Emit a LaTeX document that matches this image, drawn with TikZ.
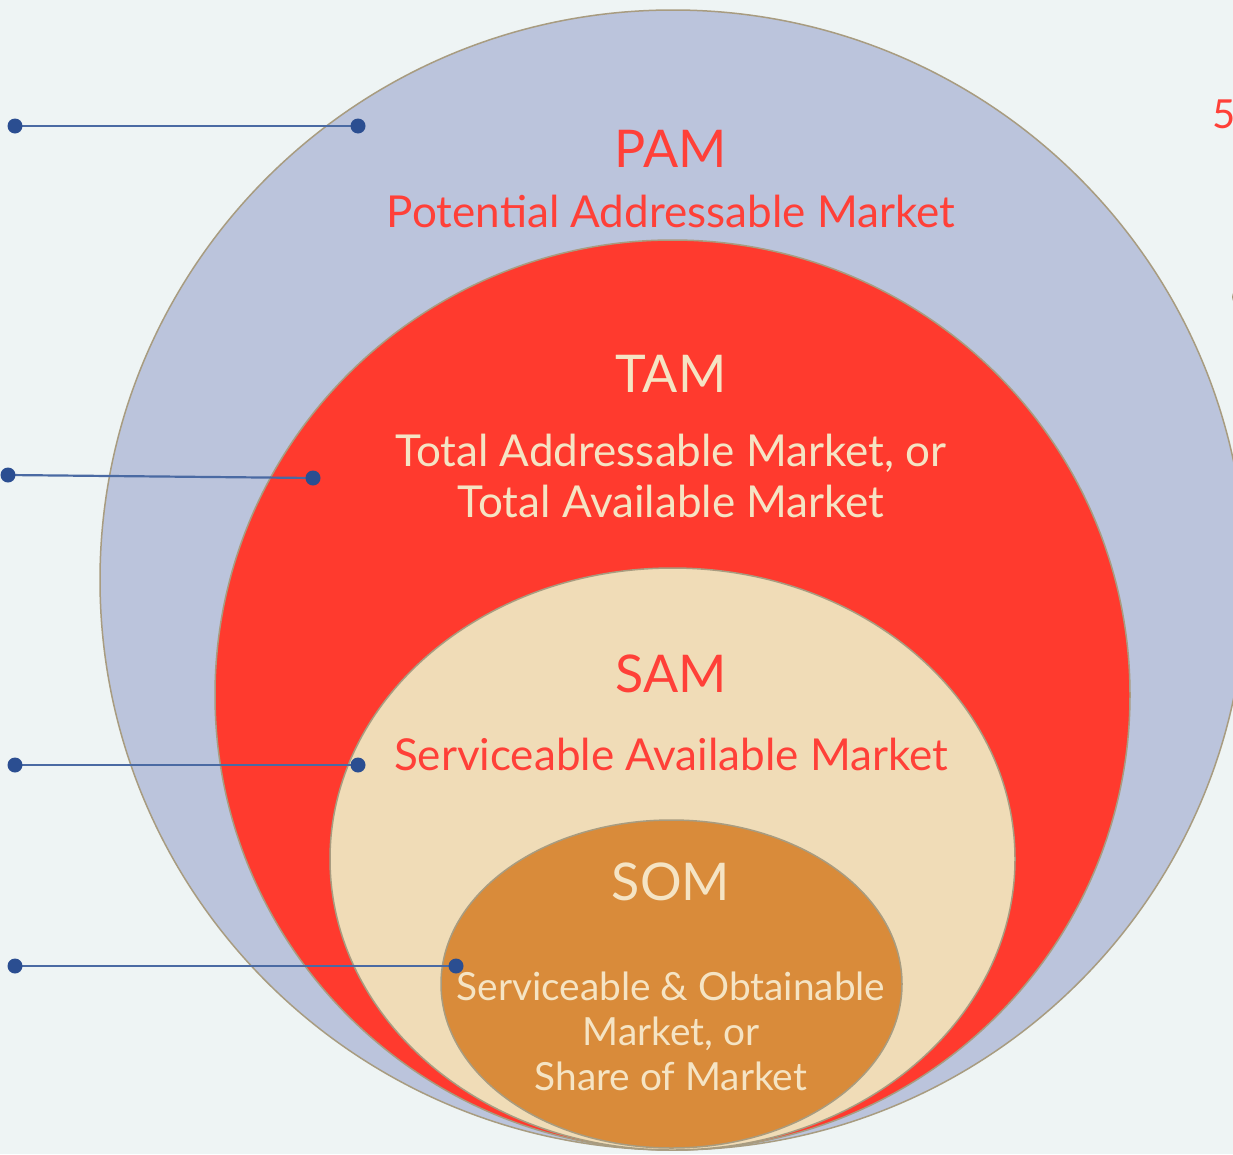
\documentclass[tikz,border=0pt]{standalone}
\usepackage{fontspec}
\setmainfont{Lato}
\usetikzlibrary{shapes.geometric}
\definecolor{bgc}{HTML}{EEF4F4}
\definecolor{pamfill}{HTML}{BBC4DC}
\definecolor{rim}{HTML}{A89C80}
\definecolor{tamfill}{HTML}{FF3A2E}
\definecolor{samfill}{HTML}{F0DCB7}
\definecolor{somfill}{HTML}{D98B3A}
\definecolor{cream}{HTML}{F5E4C4}
\definecolor{redtext}{HTML}{FF4038}
\definecolor{pin}{HTML}{2B4E91}
\definecolor{pinline}{HTML}{4A6AA3}
\begin{document}
\begin{tikzpicture}[x=1pt,y=-1pt,
  zone/.style={ellipse, draw=rim, line width=1.5pt, inner sep=0pt, outer sep=0pt},
  head/.style={font=\fontsize{52}{52}\selectfont, anchor=base, inner sep=0pt},
  sub/.style={font=\fontsize{44}{50}\selectfont, anchor=base, inner sep=0pt},
  small/.style={font=\fontsize{38.8}{44}\selectfont, anchor=base, inner sep=0pt},
  leader/.style={draw=pinline, line width=2.2pt},
  pindot/.style={circle, fill=pin, inner sep=0pt, minimum size=15pt},
  ]
\fill[bgc] (0,0) rectangle (1233,1154);
\useasboundingbox (0,0) rectangle (1233,1154);
\clip (0,0) rectangle (1233,1154);

% nested market zones
\node[zone, fill=pamfill, minimum width=1146, minimum height=1140] (pam) at (673,580) {};
\node[zone, fill=tamfill, minimum width=915, minimum height=910] (tam) at (672.5,695) {};
\node[zone, fill=samfill, minimum width=685, minimum height=582] (sam) at (672.5,859) {};
\node[zone, fill=somfill, minimum width=461, minimum height=328] (som) at (671.5,984) {};

% partial marks at the right edge
\node[anchor=base west, text=redtext, font=\fontsize{40}{40}\selectfont, inner sep=0pt] (five) at (1212,128) {5};
\node[circle, fill=rim, inner sep=0pt, minimum size=16pt] (edgedot) at (1240,297) {};

% labels
\node[head, text=redtext] (pamt) at (671,167) {PAM};
\node[sub, text=redtext] (pams) at (671,227) {Potential Addressable Market};
\node[head, text=cream] (tamt) at (671,392) {TAM};
\node[sub, text=cream] (tams1) at (671,466) {Total Addressable Market, or};
\node[sub, text=cream] (tams2) at (671,517) {Total Available Market};
\node[head, text=redtext] (samt) at (671,692) {SAM};
\node[sub, text=redtext] (sams) at (671,770) {Serviceable Available Market};
\node[head, text=cream] (somt) at (671,900) {SOM};
\node[small, text=cream] (soms1) at (671,1000) {Serviceable \& Obtainable};
\node[small, text=cream] (soms2) at (671,1045) {Market, or};
\node[small, text=cream] (soms3) at (671,1090) {Share of Market};

% leader lines
\coordinate (a1) at (15,126);  \coordinate (b1) at (358,126);
\coordinate (a2) at (8,475);   \coordinate (b2) at (313,478);
\coordinate (a3) at (15,765);  \coordinate (b3) at (358,765);
\coordinate (a4) at (15,966);  \coordinate (b4) at (456,966);
\foreach \i in {1,...,4}{
  \draw[leader] (a\i) -- (b\i);
  \node[pindot] at (a\i) {};
  \node[pindot] at (b\i) {};
}
\end{tikzpicture}
\end{document}
